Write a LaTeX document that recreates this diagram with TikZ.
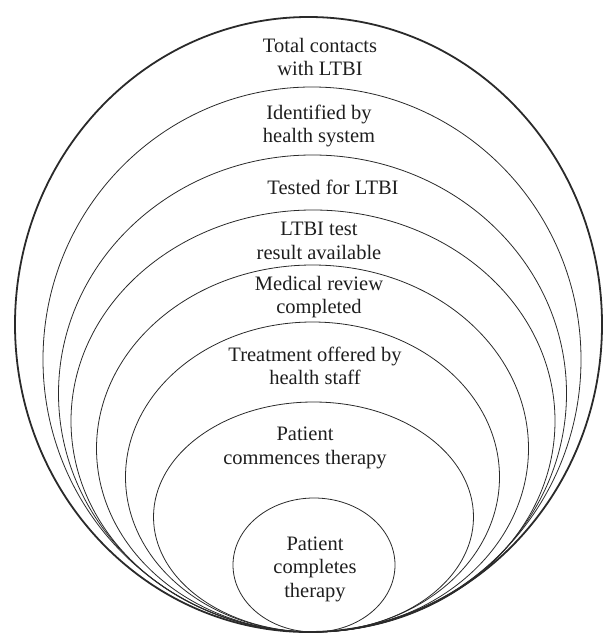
\documentclass[tikz,border=0pt]{standalone}
\usepackage{fontspec}
\setmainfont{Liberation Serif}
\usepackage{tikz}
\usetikzlibrary{calc}
\definecolor{ringgray}{HTML}{2A2A2A}
\definecolor{textgray}{HTML}{1E1E1E}

\begin{document}
\begin{tikzpicture}[
    x=1pt, y=-1pt,
    ring/.style={draw=ringgray, line width=0.8pt},
    outer ring/.style={ring, line width=1.8pt},
    stage/.style={align=center, text=textgray, inner sep=0pt, font=\fontsize{20.5}{23.5}\selectfont}
]
\useasboundingbox (0,0) rectangle (605,634);
% nested rings, all resting on the same bottom point
\draw[outer ring] (308.5,324.5) ellipse [x radius=293.5, y radius=307.5];
\foreach \cx/\top/\rx in {312/87/269, 312.5/155/254, 313/210/242, 312.5/265/216,
                          312.5/322/187, 313.5/402/160, 314/498/81}
    \draw[ring] (\cx,{(\top+632)/2}) ellipse [x radius=\rx, y radius={(632-\top)/2}];
% labels
\node[stage] (total)      at (320,57)  {Total contacts\\with LTBI};
\node[stage] (identified) at (319,126) {Identified by\\health system};
\node[stage] (tested)     at (333,187) {Tested for LTBI};
\node[stage] (result)     at (319,241) {LTBI test\\result available};
\node[stage] (review)     at (319,297) {Medical review\\completed};
\node[stage] (offered)    at (315,366) {Treatment offered by\\health staff};
\node[stage] (commences)  at (305,448) {Patient\\commences therapy};
\node[stage] (completes)  at (315,569) {Patient\\completes\\therapy};
\end{tikzpicture}
\end{document}
